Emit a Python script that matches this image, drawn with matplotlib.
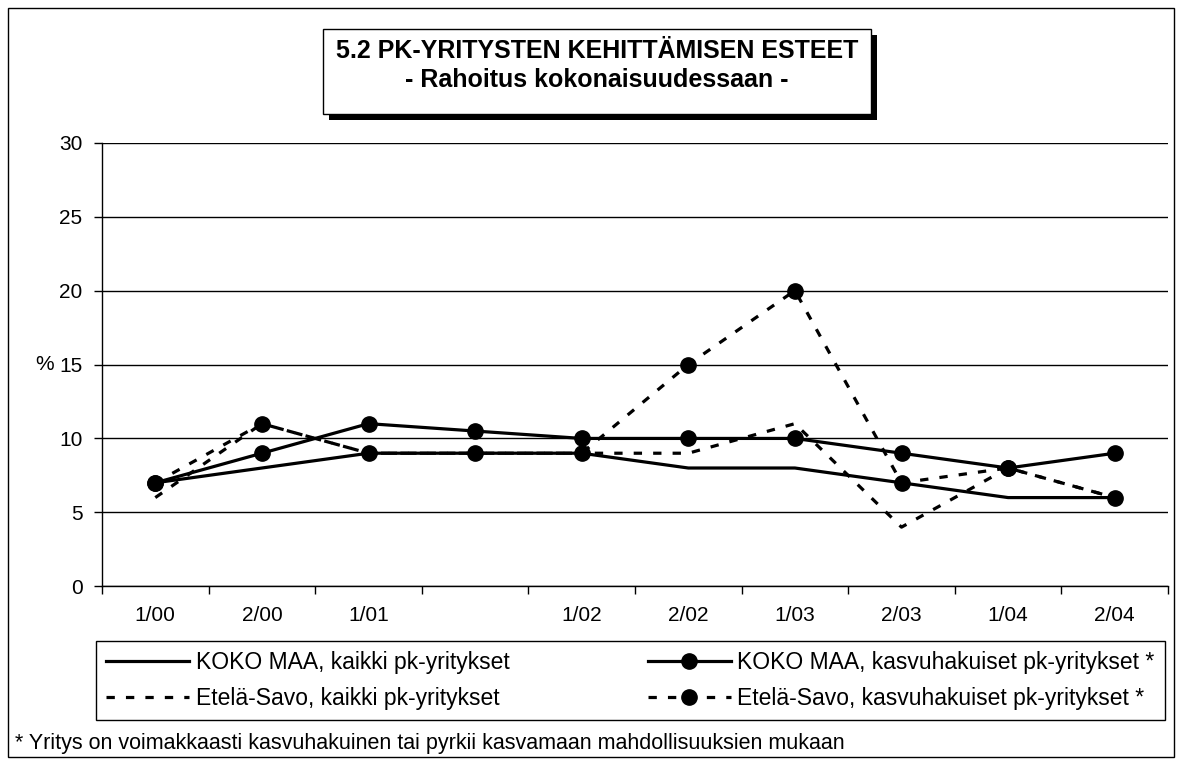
import matplotlib
matplotlib.use('Agg')
import matplotlib.pyplot as plt
from matplotlib.patches import Rectangle

categories = ['1/00', '2/00', '1/01', '', '1/02', '2/02', '1/03', '2/03', '1/04', '2/04']
koko_kaikki = [7, 8, 9, 9, 9, 8, 8, 7, 6, 6]
koko_kasvu = [7, 9, 11, 10.5, 10, 10, 10, 9, 8, 9]
es_kaikki = [6, 11, 9, 9, 9, 9, 11, 4, 8, 6]
es_kasvu = [7, 11, 9, 9, 9, 15, 20, 7, 8, 6]
yticks = [0, 5, 10, 15, 20, 25, 30]

plt.rcParams['font.family'] = ['Liberation Sans', 'DejaVu Sans']
plt.rcParams['lines.scale_dashes'] = False

W, H = 1178, 763
fig = plt.figure(figsize=(W / 100, H / 100), dpi=100)

def fr(x0, y0, x1, y1):
    # pixel box -> figure fraction (x, y, w, h)
    return x0 / W, 1 - y1 / H, (x1 - x0) / W, (y1 - y0) / H

ax = fig.add_axes(fr(102, 142.7, 1168, 586.3))
x = list(range(len(categories)))
lw = 2.3
ms = 11
dash = (0, (6, 8))
l1, = ax.plot(x, koko_kaikki, color='black', lw=lw)
l2, = ax.plot(x, koko_kasvu, color='black', lw=lw, marker='o', ms=ms)
l3, = ax.plot(x, es_kaikki, color='black', lw=lw, ls=dash)
l4, = ax.plot(x, es_kasvu, color='black', lw=lw, ls=dash, marker='o', ms=ms)

ax.set_xlim(-0.5, len(categories) - 0.5)
ax.set_ylim(0, 30)
ax.set_yticks(yticks)
ax.tick_params(axis='y', direction='out', length=6, width=1, labelsize=15, pad=8)
ax.set_xticks([i - 0.5 for i in range(len(categories) + 1)])
ax.set_xticklabels([])
ax.tick_params(axis='x', which='major', direction='out', length=6, width=1)
ax.set_xticks(x, minor=True)
ax.set_xticklabels(categories, minor=True)
ax.tick_params(axis='x', which='minor', length=0, labelsize=15, pad=14)
ax.grid(axis='y', color='black', lw=1)
ax.set_axisbelow(True)
for s in ['top', 'right']:
    ax.spines[s].set_visible(False)
for s in ['left', 'bottom']:
    ax.spines[s].set_linewidth(1)
fig.text(45 / W, 1 - 364 / H, '%', fontsize=15, ha='center', va='center')

leg = fig.legend([l1, l3, l2, l4],
                 ['KOKO MAA, kaikki pk-yritykset', 'Etelä-Savo, kaikki pk-yritykset',
                  'KOKO MAA, kasvuhakuiset pk-yritykset *', 'Etelä-Savo, kasvuhakuiset pk-yritykset *'],
                 ncol=2, mode='expand', loc='upper left',
                 bbox_to_anchor=fr(96, 641, 1165, 726), bbox_transform=fig.transFigure,
                 fontsize=16.5, handlelength=3.6, handletextpad=0.3, labelspacing=0.55,
                 borderpad=0.45, borderaxespad=0, fancybox=False, framealpha=1,
                 edgecolor='black')
leg.get_frame().set_linewidth(1)

# title box with shadow
sx, sy, sw, sh = fr(329, 35, 877, 120)
fig.patches.append(Rectangle((sx, sy), sw, sh, transform=fig.transFigure,
                             facecolor='black', edgecolor='none', zorder=3))
bx, by, bw, bh = fr(323, 29, 871, 114)
fig.patches.append(Rectangle((bx, by), bw, bh, transform=fig.transFigure,
                             facecolor='white', edgecolor='black', lw=1, zorder=4))
fig.text(597 / W, 1 - 51 / H, '5.2 PK-YRITYSTEN KEHITTÄMISEN ESTEET',
         fontsize=18, weight='bold', ha='center', va='center', zorder=5)
fig.text(597 / W, 1 - 80 / H, '- Rahoitus kokonaisuudessaan -',
         fontsize=18, weight='bold', ha='center', va='center', zorder=5)

fig.text(15 / W, 1 - 743 / H,
         '* Yritys on voimakkaasti kasvuhakuinen tai pyrkii kasvamaan mahdollisuuksien mukaan',
         fontsize=15.5, ha='left', va='center')

# outer border
ox, oy, ow, oh = fr(8, 8, 1174, 757)
fig.patches.append(Rectangle((ox, oy), ow, oh, transform=fig.transFigure,
                             facecolor='none', edgecolor='black', lw=1))

plt.savefig('out.png', dpi=100)
